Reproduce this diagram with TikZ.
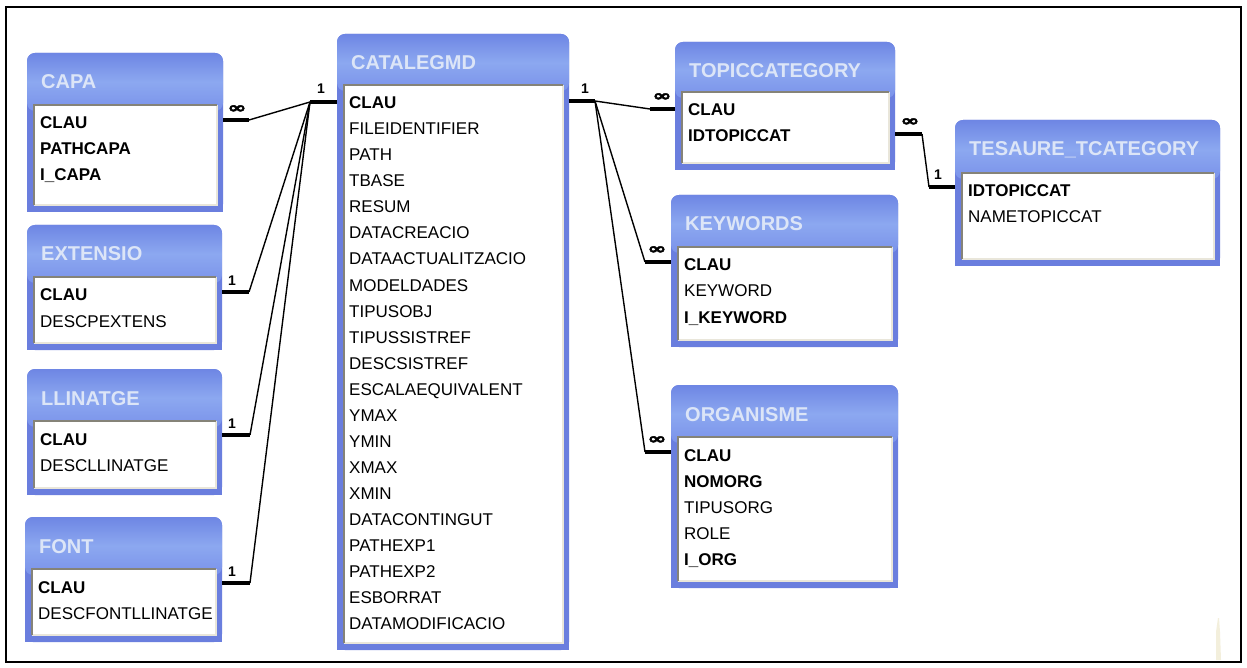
\documentclass[tikz,border=0pt]{standalone}
\usepackage{fontspec}
\setmainfont{Liberation Sans}
\newfontfamily\heavyinf[FakeBold=2.5]{DejaVu Sans Bold}
\usetikzlibrary{calc,fit}

\definecolor{winblue}{HTML}{6A7EDE}
\definecolor{hdtop}{HTML}{6E86E4}
\definecolor{hdmid}{HTML}{8CA8F0}
\definecolor{hdbot}{HTML}{7A92EA}
\definecolor{titlecol}{HTML}{DCE5F7}
\definecolor{sunkdark}{HTML}{858378}
\definecolor{sunklight}{HTML}{E9E6DA}
\definecolor{creammark}{HTML}{F3EFDC}

\tikzset{
 fieldtxt/.style={anchor=base west, inner sep=0pt, font=\fontsize{17}{17}\selectfont, text=black},
 keytxt/.style={anchor=base west, inner sep=0pt, font=\fontsize{17}{17}\selectfont\bfseries, text=black},
 titletxt/.style={anchor=base west, inner sep=0pt, font=\fontsize{20}{20}\selectfont\bfseries, text=titlecol},
 stub/.style={line width=4pt, black},
 link/.style={line width=1.4pt, black, line join=round},
 onecard/.style={inner sep=0pt, font=\fontsize{14}{14}\selectfont\bfseries},
 manycard/.style={inner sep=0pt, font=\heavyinf\fontsize{15}{15}\selectfont},
}

% #1 id, #2 L, #3 T, #4 R, #5 B, #6 inner top, #7 title
\newcommand\dbtab[7]{%
  \fill[winblue, rounded corners=8pt] (#2,#3) rectangle (#4,#5);
  \fill[winblue] (#2,{#3+20}) rectangle (#4,#5);
  \shade[top color=hdtop, bottom color=hdbot, middle color=hdmid, rounded corners=8pt] (#2,#3) rectangle (#4,{#6+6});
  \fill[white] ({#2+7},#6) rectangle ({#4-6},{#5-7});
  \draw[sunklight, line width=1.6pt] ({#2+7},{#5-7}) -- ({#4-6},{#5-7}) -- ({#4-6},#6);
  \draw[sunkdark, line width=1.6pt] ({#2+7},{#5-7}) -- ({#2+7},#6) -- ({#4-6},#6);
  \coordinate (#1-nw) at (#2,#3);
  \coordinate (#1-se) at (#4,#5);
  \node[fit=(#1-nw)(#1-se), inner sep=0pt] (#1) {};
  \node[titletxt] (#1-title) at ({#2+14},{#3+36}) {#7};
}

\begin{document}
\begin{tikzpicture}[x=1pt,y=-1pt]
\useasboundingbox (0,0) rectangle (1247,668);
\fill[white] (0,0) rectangle (1247,668);
\draw[line width=2pt] (6,7) rectangle (1241,662);

% tables
\dbtab{capa}{27}{53}{223}{212}{105}{CAPA}
\node[keytxt] (capa-f0) at (40,129) {CLAU};
\node[keytxt] (capa-f1) at (40,155) {PATHCAPA};
\node[keytxt] (capa-f2) at (40,181) {I\_CAPA};

\dbtab{ext}{27}{225}{222}{350}{277}{EXTENSIO}
\node[keytxt] (ext-f0) at (40,301) {CLAU};
\node[fieldtxt] (ext-f1) at (40,327) {DESCPEXTENS};

\dbtab{llin}{27}{369}{222}{495}{421}{LLINATGE}
\node[keytxt] (llin-f0) at (40,445) {CLAU};
\node[fieldtxt] (llin-f1) at (40,471) {DESCLLINATGE};

\dbtab{font}{25}{517}{222}{642}{569}{FONT}
\node[keytxt] (font-f0) at (38,593) {CLAU};
\node[fieldtxt] (font-f1) at (38,619) {DESCFONTLLINATGE};

\dbtab{cat}{337}{34}{569}{650}{85}{CATALEGMD}
\node[keytxt] (cat-f0) at (349,109) {CLAU};
\foreach \t [count=\i] in {FILEIDENTIFIER,PATH,TBASE,RESUM,DATACREACIO,DATAACTUALITZACIO,MODELDADES,TIPUSOBJ,TIPUSSISTREF,DESCSISTREF,ESCALAEQUIVALENT,YMAX,YMIN,XMAX,XMIN,DATACONTINGUT,PATHEXP1,PATHEXP2,ESBORRAT,DATAMODIFICACIO}
  \node[fieldtxt] (cat-f\i) at (349,{109+26*\i}) {\t};

\dbtab{topic}{675}{42}{895}{170}{92}{TOPICCATEGORY}
\node[keytxt] (topic-f0) at (688,116) {CLAU};
\node[keytxt] (topic-f1) at (688,142) {IDTOPICCAT};

\dbtab{tes}{955}{120}{1220}{266}{173}{TESAURE\_TCATEGORY}
\node[keytxt] (tes-f0) at (968,197) {IDTOPICCAT};
\node[fieldtxt] (tes-f1) at (968,223) {NAMETOPICCAT};

\dbtab{kw}{671}{195}{898}{347}{247}{KEYWORDS}
\node[keytxt] (kw-f0) at (684,271) {CLAU};
\node[fieldtxt] (kw-f1) at (684,297) {KEYWORD};
\node[keytxt] (kw-f2) at (684,323) {I\_KEYWORD};

\dbtab{org}{671}{385}{898}{588}{437}{ORGANISME}
\node[keytxt] (org-f0) at (684,461) {CLAU};
\node[keytxt] (org-f1) at (684,487) {NOMORG};
\node[fieldtxt] (org-f2) at (684,513) {TIPUSORG};
\node[fieldtxt] (org-f3) at (684,539) {ROLE};
\node[keytxt] (org-f4) at (684,565) {I\_ORG};

% connector points
\coordinate (hubL) at (310,102);
\coordinate (hubR) at (595,101);
\coordinate (capaS) at (249,120);
\coordinate (extS) at (249,292);
\coordinate (llinS) at (250,435);
\coordinate (fontS) at (250,583);
\coordinate (topicS) at (650,109);
\coordinate (kwS) at (645,262);
\coordinate (orgS) at (645,452);
\coordinate (tcA) at (922,134);
\coordinate (tcB) at (929,187);

% thin links
\draw[link] (capaS) -- (hubL);
\draw[link] (extS) -- (hubL);
\draw[link] (llinS) -- (hubL);
\draw[link] (fontS) -- (hubL);
\draw[link] (hubR) -- (topicS);
\draw[link] (hubR) -- (kwS);
\draw[link] (hubR) -- (orgS);
\draw[link] (tcA) -- (tcB);

% thick stubs
\draw[stub] (hubL) -- (hubL -| cat.west);
\draw[stub] (hubR) -- (hubR -| cat.east);
\draw[stub] (capa.east |- capaS) -- (capaS);
\draw[stub] (ext.east |- extS) -- (extS);
\draw[stub] (llin.east |- llinS) -- (llinS);
\draw[stub] (font.east |- fontS) -- (fontS);
\draw[stub] (topicS) -- (topicS -| topic.west);
\draw[stub] (kwS) -- (kwS -| kw.west);
\draw[stub] (orgS) -- (orgS -| org.west);
\draw[stub] (topic.east |- tcA) -- (tcA);
\draw[stub] (tcB) -- (tcB -| tes.west);

% cardinality labels
\node[manycard] (m-capa) at (237,109) {\scalebox{1.5}[1]{∞}};
\node[onecard] (o-catL) at (321,89) {1};
\node[onecard] (o-ext) at (232,281) {1};
\node[onecard] (o-llin) at (232,424) {1};
\node[onecard] (o-font) at (232,572) {1};
\node[onecard] (o-catR) at (585,89) {1};
\node[manycard] (m-topic) at (662,97) {\scalebox{1.5}[1]{∞}};
\node[manycard] (m-kw) at (657,250) {\scalebox{1.5}[1]{∞}};
\node[manycard] (m-org) at (657,440) {\scalebox{1.5}[1]{∞}};
\node[manycard] (m-tc) at (910,122) {\scalebox{1.5}[1]{∞}};
\node[onecard] (o-tes) at (938,175) {1};

% faint mark bottom right
\fill[creammark] (1216,660) -- (1216,632) -- (1218,618) -- (1219,618) -- (1220,632) -- (1221,660) -- cycle;
\end{tikzpicture}
\end{document}
